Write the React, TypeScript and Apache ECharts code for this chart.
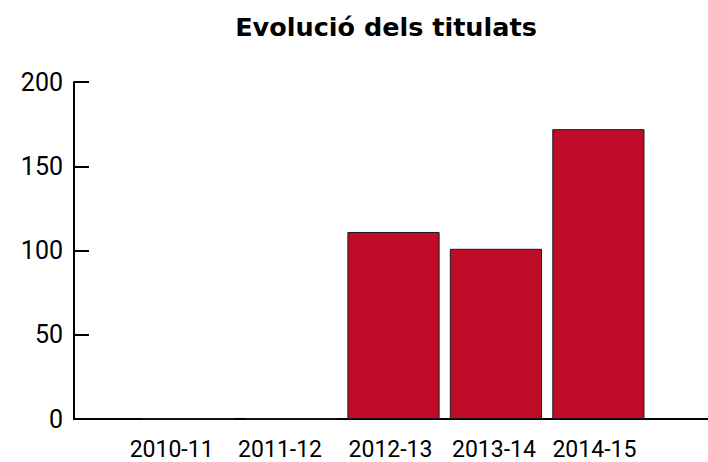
import React, { useEffect, useRef } from "react";
import * as echarts from "echarts";

const titleText = "Evolució dels titulats";
const categories = ["2010-11", "2011-12", "2012-13", "2013-14", "2014-15"];
const titulats = [0, 0, 111, 101, 172];
const yMin = 0;
const yMax = 200;
const yInterval = 50;

// horizontal nudges (px, leftwards) of each category label, as in the reference
const labelShift = [17, 11, 3, 2, 4];

export default function App() {
  const ref = useRef<HTMLDivElement>(null);
  useEffect(() => {
    if (!ref.current) return;
    const chart = echarts.init(ref.current, undefined, { renderer: "svg" });
    const rich: Record<string, any> = {};
    labelShift.forEach((s, i) => {
      rich["c" + i] = {
        fontFamily: "Roboto",
        fontSize: 23,
        color: "#000000",
        padding: [0, s * 2, 0, 0],
      };
    });
    chart.setOption({
      animation: false,
      backgroundColor: "#ffffff",
      title: {
        text: titleText,
        left: 381,
        textAlign: "center",
        top: 9,
        textStyle: {
          fontFamily: "DejaVu Sans",
          fontWeight: "bold",
          fontSize: 25.5,
          color: "#000000",
        },
      },
      grid: [
        { left: 74, right: 0, top: 82, bottom: 43, containLabel: false },
        { left: 137.4, right: 58.4, top: 82, bottom: 43, containLabel: false },
      ],
      xAxis: [
        {
          gridIndex: 0,
          type: "value",
          min: 0,
          max: 1,
          axisLine: { show: true, lineStyle: { color: "#000000", width: 2 } },
          axisTick: { show: false },
          axisLabel: { show: false },
          splitLine: { show: false },
        },
        {
          gridIndex: 1,
          type: "category",
          data: categories,
          axisLine: { show: false },
          axisTick: { show: false },
          axisLabel: {
            interval: 0,
            fontFamily: "Roboto",
            fontSize: 23,
            color: "#000000",
            margin: 19,
            formatter: (v: string, i: number) => `{c${i}|${v}}`,
            rich,
          },
          splitLine: { show: false },
        },
      ],
      yAxis: [
        {
          gridIndex: 0,
          type: "value",
          min: yMin,
          max: yMax,
          interval: yInterval,
          axisLine: { show: true, lineStyle: { color: "#000000", width: 2 } },
          axisTick: {
            show: true,
            inside: true,
            length: 15,
            lineStyle: { color: "#000000", width: 2 },
          },
          axisLabel: {
            fontFamily: "Roboto",
            fontSize: 25,
            color: "#000000",
            margin: 11,
          },
          splitLine: { show: false },
        },
        {
          gridIndex: 1,
          type: "value",
          min: yMin,
          max: yMax,
          show: false,
          splitLine: { show: false },
        },
      ],
      series: [
        {
          type: "bar",
          xAxisIndex: 1,
          yAxisIndex: 1,
          data: titulats,
          barCategoryGap: "10%",
          itemStyle: {
            color: "#bd0b28",
            borderColor: "#1a1a1a",
            borderWidth: 1,
          },
        },
      ],
    });
    return () => chart.dispose();
  }, []);
  return (
    <div
      ref={ref}
      style={{ position: "fixed", left: 0, top: 0, width: 708, height: 462 }}
    />
  );
}
